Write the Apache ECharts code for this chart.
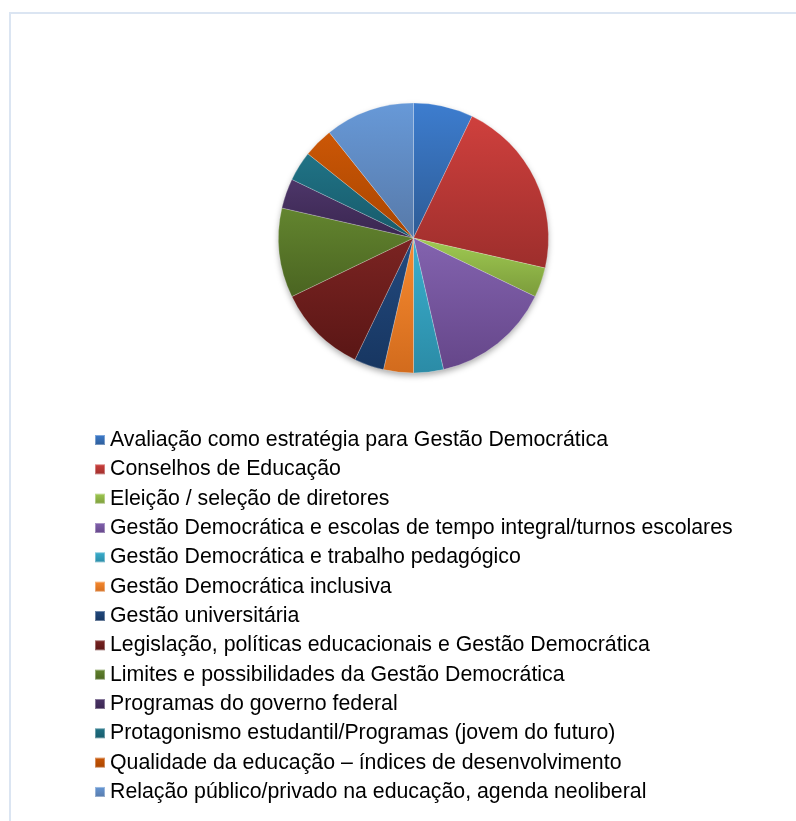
<!DOCTYPE html>
<html>
<head>
<meta charset="utf-8">
<script src="https://cdn.jsdelivr.net/npm/echarts@6/dist/echarts.min.js"></script>
<style>
  html, body { margin: 0; padding: 0; background: #ffffff; }
  #chart { width: 796px; height: 821px; }
</style>
</head>
<body>
<div id="chart"></div>
<script>
// Themes of the studies and the number of works found for each one
const categories = [
  'Avaliação como estratégia para Gestão Democrática',
  'Conselhos de Educação',
  'Eleição / seleção de diretores',
  'Gestão Democrática e escolas de tempo integral/turnos escolares',
  'Gestão Democrática e trabalho pedagógico',
  'Gestão Democrática inclusiva',
  'Gestão universitária',
  'Legislação, políticas educacionais e Gestão Democrática',
  'Limites e possibilidades da Gestão Democrática',
  'Programas do governo federal',
  'Protagonismo estudantil/Programas (jovem do futuro)',
  'Qualidade da educação – índices de desenvolvimento',
  'Relação público/privado na educação, agenda neoliberal'
];
const counts = [2, 6, 1, 4, 1, 1, 1, 3, 3, 1, 1, 1, 3];

// Slice fills: lighter tone at the top of each slice, darker at the bottom
const topColors = ['#3d7dcf', '#cf403d', '#a0cb52', '#8363af', '#3bb0cf', '#f88b30',
                   '#234a7f', '#7b2422', '#63852f', '#4d3669', '#207386', '#cc5706', '#6799d8'];
const bottomColors = ['#2d5b95', '#9d2e2c', '#7b9b3b', '#654689', '#2b8ba6', '#d26b1d',
                      '#173661', '#5a1615', '#4a6421', '#3a2650', '#175a6a', '#a84500', '#5779a8'];

function grad(i) {
  return new echarts.graphic.LinearGradient(0, 0, 0, 1, [
    { offset: 0, color: topColors[i] },
    { offset: 1, color: bottomColors[i] }
  ]);
}

const chart = echarts.init(document.getElementById('chart'), null, { renderer: 'canvas' });

const pieData = categories.map((name, i) => ({
  name: name,
  value: counts[i],
  itemStyle: { color: grad(i) }
}));

chart.setOption({
  animation: false,
  backgroundColor: '#ffffff',
  graphic: [{
    type: 'rect',
    shape: { x: 10, y: 13, width: 820, height: 840 },
    style: { fill: 'none', stroke: '#dbe5f2', lineWidth: 2 },
    z: 0
  }],
  legend: {
    orient: 'vertical',
    left: 94,
    top: 429.5,
    padding: 0,
    data: categories,
    icon: 'rect',
    itemWidth: 10,
    itemHeight: 10,
    itemGap: 8.33,
    selectedMode: false,
    textStyle: {
      fontFamily: 'Liberation Sans, Arial, sans-serif',
      fontSize: 21.3,
      lineHeight: 21,
      color: '#000000',
      padding: [0, 0, 0, 0]
    }
  },
  series: [
    {
      // soft shadow under the disc
      type: 'pie',
      silent: true,
      center: [413.5, 238],
      radius: [0, 134.5],
      label: { show: false },
      labelLine: { show: false },
      data: [{ name: '', value: 1, itemStyle: { color: '#ffffff', shadowColor: 'rgba(0,0,0,0.35)', shadowBlur: 6, shadowOffsetY: 3 } }],
      z: 1
    },
    {
      type: 'pie',
      center: [413.5, 238],
      radius: [0, 135],
      startAngle: 90,
      clockwise: true,
      label: { show: false },
      labelLine: { show: false },
      itemStyle: { borderColor: 'rgba(255,255,255,0.35)', borderWidth: 0.6 },
      emphasis: { disabled: true },
      data: pieData,
      z: 2
    }
  ]
});
</script>
</body>
</html>
